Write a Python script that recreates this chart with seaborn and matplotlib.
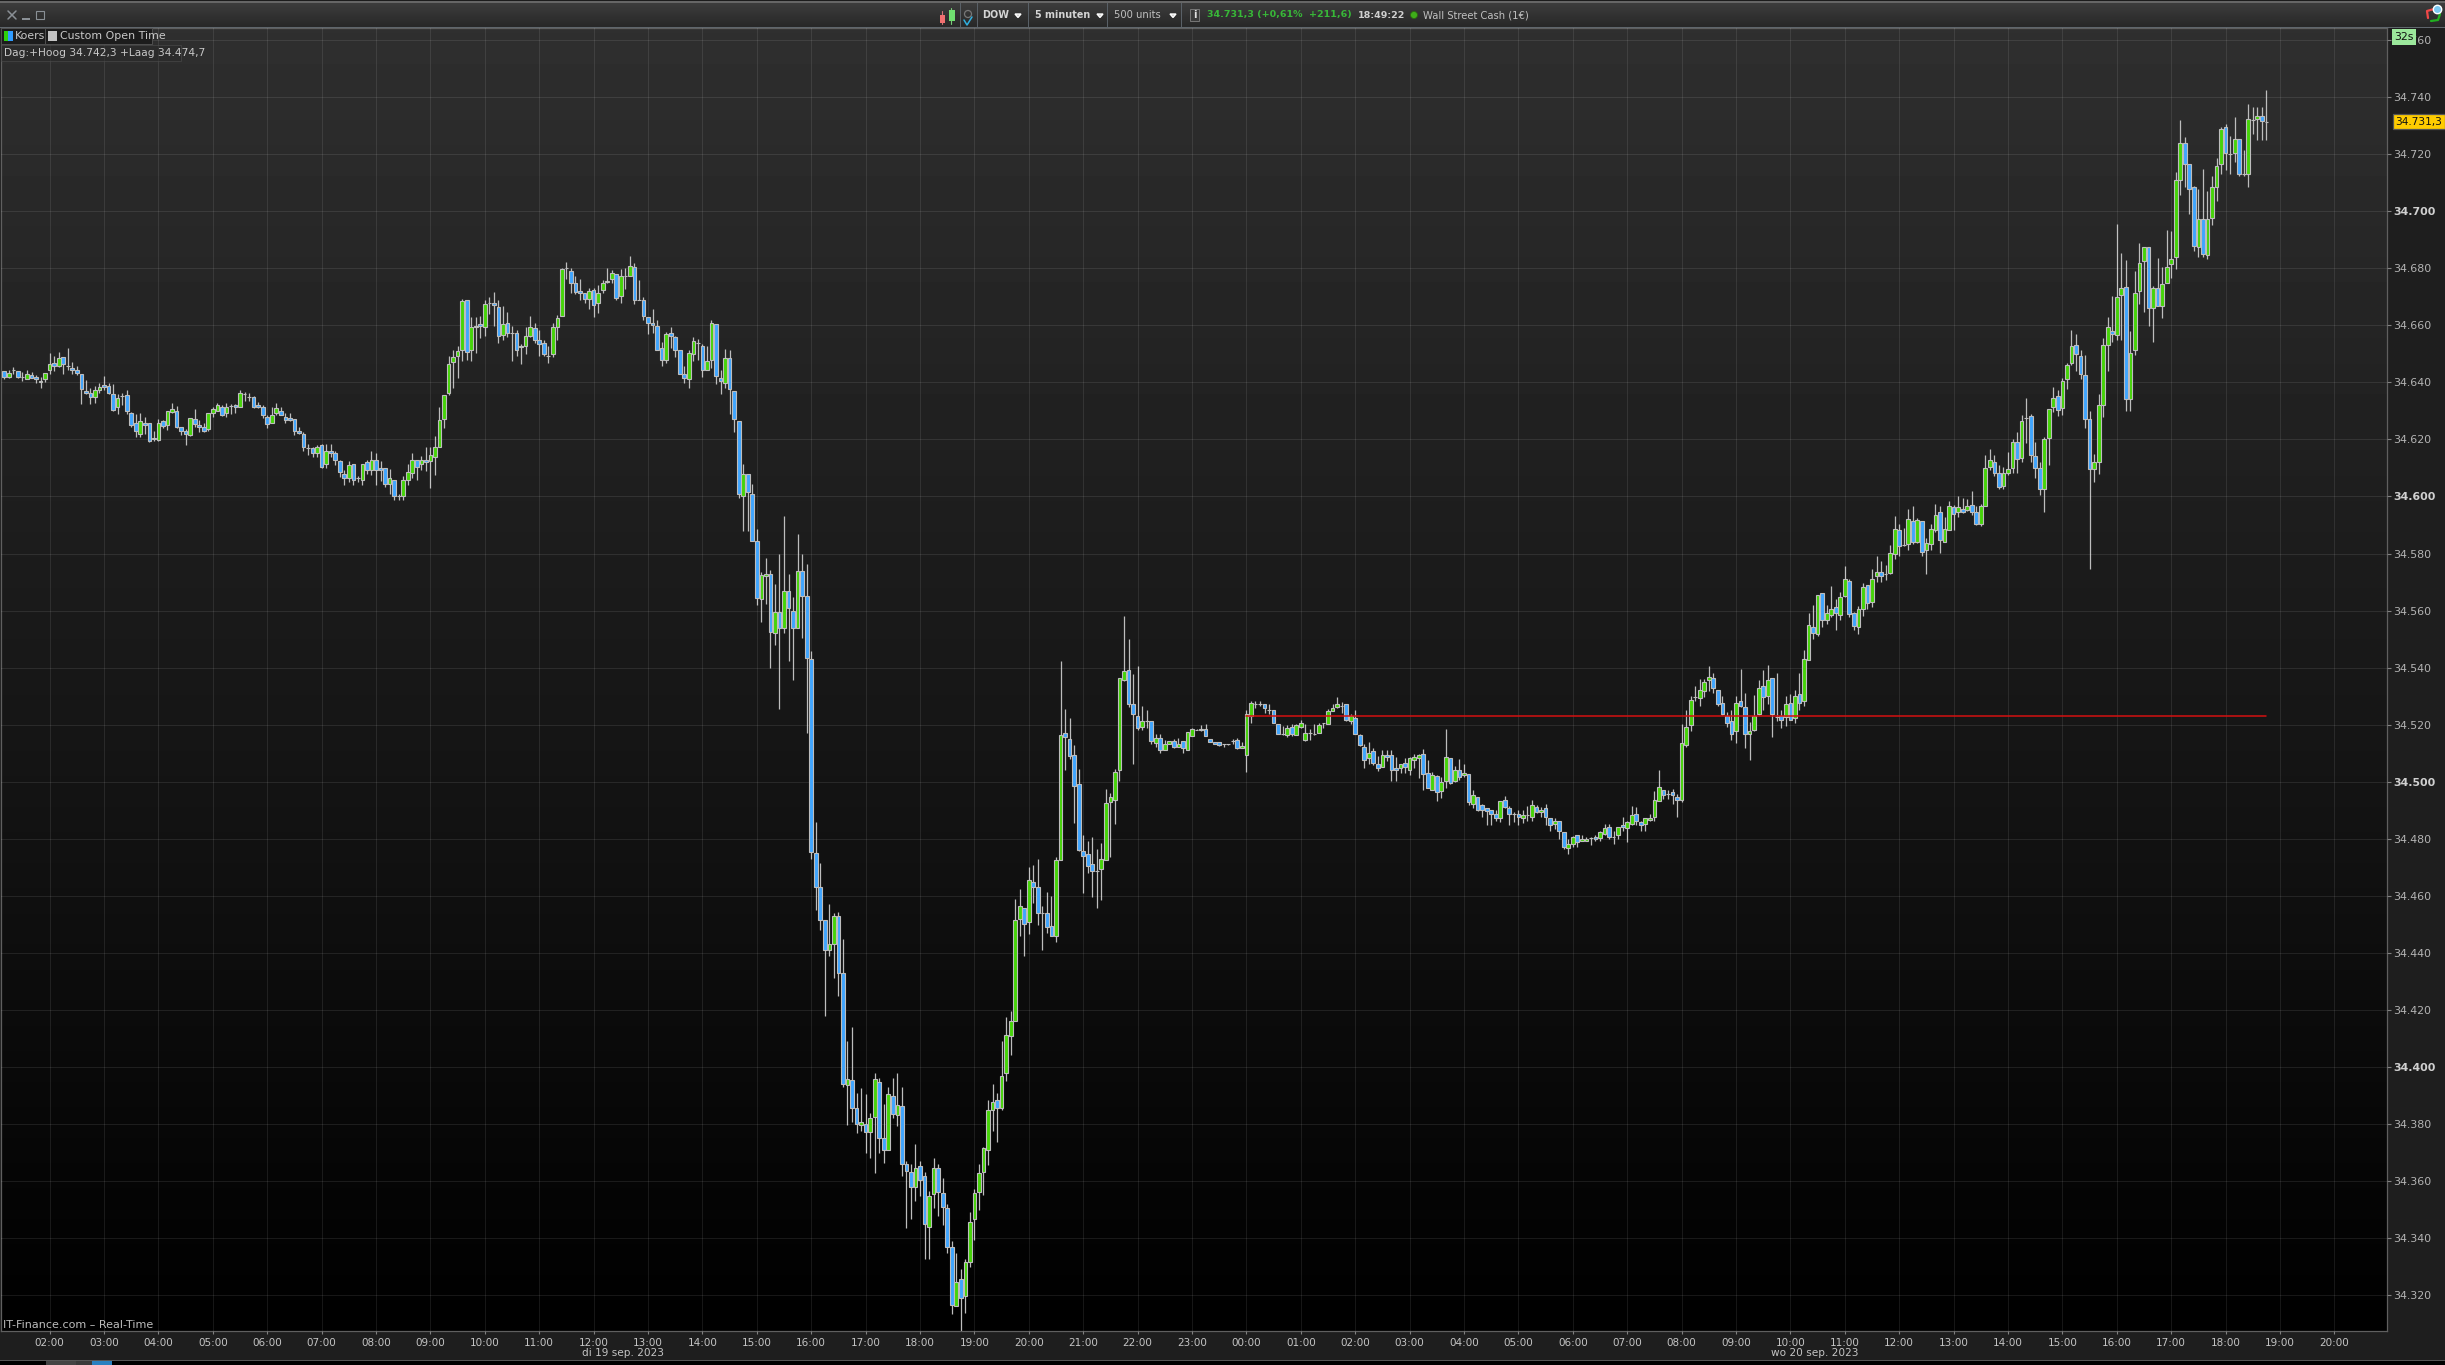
import numpy as np
import pandas as pd
import matplotlib
matplotlib.use("Agg")
import matplotlib.pyplot as plt
from matplotlib.patches import Rectangle, Circle, Polygon
import seaborn as sns

BASE = 34000
OPENS = [
644,642,644.4,644,641.8,641,642.5,642,640.1,641,
644.2,646.9,645.9,649,645.8,645.2,644.4,643,637,636.1,
635,637.2,639.1,638.6,636,631.2,635.2,635.6,629.1,625.6,
622,625.8,625.6,620,619.9,626.5,625.2,629.6,630,624.4,
622.8,621.7,627,625.2,624.2,623.5,629.1,630.1,631.4,629.1,
631.7,632.2,631.4,635.9,634.8,634.9,632.2,631.4,627.9,625.9,
629.1,630,628,627.6,627,622.8,622,617,617,615.1,
618.1,611.3,615.8,615.1,612.6,608,606.6,611.4,606.6,605.9,
612.1,609.2,612.8,609.9,610,604.5,605.9,600,600,605.9,
608.2,612.8,611.3,612.7,612.6,614,617.2,627,636.1,647,
649.1,651.2,669,651.2,659.3,660.6,659.3,667.9,667.9,666.5,
656.5,660.9,657.4,657.2,652.4,652.6,656.1,659.1,655,653.9,
649.3,650.1,659.3,663.1,680,679.1,674.9,672.1,671.4,669.1,
672.5,667.7,672.2,675.2,676.1,678.1,670.1,677.3,677.3,680.6,
668.9,669,663,660.9,659.9,652.1,648,657.4,656,651.4,
643,641,650.1,653.9,652.8,644.5,647.9,660.6,641.7,639.9,
648.7,637,626.5,600,607.9,601,584.4,564.2,572.3,573,
552.3,559.5,554,566.9,560,554,574,565,543,475,
463,451.7,441,443.1,452.8,433,393.6,395.3,385.8,379.6,
379.9,377.1,382.5,394.9,375,370.9,390,383.1,386.5,365.9,
363.1,357.8,365.5,361.9,343.8,355.4,364.7,356,350.7,337,
316.1,325.9,319.6,331.8,346.8,356.1,363.1,370.9,384.9,388.4,
385.6,397.8,410.9,416.1,451.8,455.9,450.9,464.9,463.1,453.9,
453.9,449.3,445.9,472.6,517.1,515.1,509.5,499.2,475.7,474.7,
471.2,468.9,469.5,472.6,492.9,493.6,504.2,535.8,539.3,527.4,
523.2,519.2,521.4,521.4,513.7,515.4,511.2,513.3,514.3,512.3,
514.3,511.2,516.1,518.3,518,518.6,515.1,513.9,513.9,513.2,
513.2,514.3,514.7,511.9,509.5,523.2,527.4,527.4,527.4,525.2,
525.2,520.4,516.9,516.4,519.2,516.5,519.2,514.6,517.1,516.6,
517.2,520.6,520.4,524.9,526.3,526.7,527.4,521.4,522.5,516.5,
512.2,508.4,510.8,506.3,505.3,509.4,509.4,504.9,504.9,506.6,
504.1,507.7,508.4,509.8,503,497.2,501.9,496.9,500.2,508.4,
500.3,504.2,502.5,502.8,492.3,494.6,491.9,490.9,490.2,488.8,
487.4,493.7,490.9,488.7,488.8,487.3,488.4,487.6,491.2,489.5,
490.9,487.4,485.2,486.3,482.5,476.7,478.1,481.4,479.3,479.3,
480.4,480.7,480.3,481.7,484.2,480.7,481.3,484.9,483.9,485.3,
488.8,486,485.3,486.7,487.6,493.2,497.2,495.7,496.5,494.7,
493.7,512.9,520,529.8,529.4,531.8,535.5,536.5,532.3,527.7,
523.2,521.3,517.9,528.4,526.3,516.9,518.1,523.9,533.4,530.2,
536.5,522.8,523.1,522.8,527.7,522.5,530.9,528.4,542.7,554.3,
551.8,566.2,556.8,558.3,561.3,558.3,565.2,570.2,559.2,554.4,
560.4,568.8,563.1,572,573.4,572.9,573.2,580,588.4,583,
583.2,591.3,584.1,591.3,581.3,583.2,588.4,594.4,584.2,588.4,
596.4,594.4,595.7,595.4,597.1,594.4,590.3,596.6,610.2,612.2,
608.3,603.8,608.4,609.9,619.2,613.5,627.5,628.3,614.3,610.1,
602.5,620.4,631.3,635.3,630.9,641.3,646.7,653.2,649.4,642.5,
627,609.5,612,632,653,658,656.5,670.5,673.4,634,
651.2,671.9,682.5,687.6,666,672.9,666.7,674.8,681.4,683.9,
711,723.8,716.7,708.3,687.4,697.2,684.6,697.7,708.4,716.5,
729.5,720.1,720.4,725.3,713.1,713.2,732,732.3,733.2,731.3]
CLOSES = [
642,643.4,644.4,642,641.8,643,641.7,641,640.6,643.4,
646.5,645.6,648.7,646.6,645.8,644.2,643.4,637.5,636.1,635,
637.4,638.4,638.2,636.1,630.4,634.6,635.2,630,625.2,622.8,
626.5,625.2,619.5,620.6,625.9,624.6,630,630.5,624.2,623.1,
622,627.6,625.5,624.5,623.1,629.1,630.5,632.1,628.7,631.2,
631.7,631.2,636.3,635.9,634.8,631.4,631.2,628.7,625.5,628.6,
631,628.6,626.9,626.9,623.1,622.1,617.5,617,615.1,617.4,
610.4,616,615.1,612.9,608.6,606.6,611.1,605.9,606.6,611.4,
609.4,612.8,609.4,609.4,604.2,606.5,600,600,605.6,608.7,
612.8,610.5,612.8,612.2,614.6,617.4,626.9,635.6,646.5,649,
651.1,668.6,650.6,659.4,659.9,659.6,667.6,667.9,667,656.1,
660.6,657.2,657.4,651.5,652.9,656.3,659.5,654.7,653.6,650,
649.3,659.5,662.6,679.6,680,674.7,671.5,671.2,669.1,672.1,
667,671.4,674.7,675.6,678.2,669.4,677.3,677.3,680.9,668.7,
668.9,663.1,660.7,660,651.5,647.7,657,656.1,651.2,643.1,
641.6,650.4,654.6,653.9,644.5,647.6,660.9,642.1,640.6,648.7,
637.5,627,600.7,607.9,601.7,584.5,564.5,572.4,572.9,552.6,
559.5,554,566.9,561,554,574,565,543.5,475.5,463.1,
451.6,441,443,452.8,433,393.9,396,385.8,379.9,380.9,
377.1,382,396,375,370.9,390.7,383.4,386.8,365.9,363.5,
357.8,364.7,360.4,344.9,354.9,364.7,356.1,350.8,337.1,316.5,
324.7,318.9,331.7,345.8,356,363,371.5,384.8,387.9,385.7,
397,411.3,416.3,451.7,456.4,450.1,465.5,463.1,454,453.9,
449,445.9,472.6,516.5,515.7,509,498.6,476.1,474,470.4,
468.7,468.9,473,492.6,494.7,503.5,536.5,538.8,527.4,523.8,
518.8,521.4,521.4,514.3,515.4,511.2,513.3,514.3,512.3,513.3,
511.8,517.6,518.6,518.3,518.5,516,514,513.3,512.9,513.2,
513.2,514.3,511.8,512.6,523.8,527.6,527.4,527.4,525.9,525.2,
520.6,516.9,516.9,518.8,516.9,519.9,520.7,517.1,517.1,516.6,
520,520.6,524.9,525.9,527.4,526.7,521.8,523.2,516.9,512.9,
507.7,510.2,506.7,504.9,509.4,508.8,504.2,504.3,506.2,505.3,
508.4,508.7,509.4,502.7,497.8,502.3,496.4,499.9,508.7,499.6,
504,501.7,503.2,492.9,495.5,490,490.1,489.7,488.7,487.3,
493.3,491.1,488.7,488.7,487.7,488.3,488.4,491.9,489.4,490.2,
487.6,484.8,486.3,482.8,477.1,478.3,480.7,479,480,480,
480.4,479.9,482.5,483.9,480.6,480.7,484.2,484.2,486,488.4,
486.2,484.9,487.4,487.3,493.7,498.3,495.5,495.7,495.5,493.7,
513.7,519.3,528.8,529.8,532.3,534.8,536.9,533,527.3,523.8,
520.7,516.9,527.7,526.6,516.9,517.9,523.2,533,529.8,535.8,
523.8,522.8,521.8,527.4,521.8,530.2,527.7,543.1,554.8,552.3,
565.3,556.8,559,560.6,559,564.9,570.9,558.9,554.6,560.6,
568.4,562.7,571.1,573.7,572.2,572.9,580.3,588.7,582.7,583,
592.2,583.9,591.8,580.7,583.8,588.7,593.6,584.8,588.7,596.8,
593.7,596.3,594.4,596.8,594.6,590.2,596.8,610.1,612.9,608.4,
603.2,608.3,609.5,619.2,613,626.6,627.5,614.4,609.9,602.5,
620,630.8,634.6,630.2,640.6,646.2,652.9,649.9,642.8,627,
609.5,612,632,653.2,659.3,656.9,669.9,672.9,634,650.4,
671.2,681.8,687.6,666,672.9,666.7,674.6,680.6,683.4,710.8,
723.8,716.5,707.7,687.7,697.2,684.9,697.4,708.4,715.7,728.7,
720.4,720.1,725.3,713.2,713.1,732.3,732,733.2,731.6,731.3]
HIGHS = [
644,644.3,645.4,644,643.6,644.5,643.6,642.7,642,643.4,
650.3,649.4,650.6,649,652.2,647,645.9,643,640.8,637.9,
638.6,639.6,642.2,639.6,639.4,635.9,636.1,637.2,629.7,628.9,
629.1,628,625.6,623.1,627,626.7,630,632.6,631.7,624.4,
623.7,627.6,630.6,626.7,625.6,629.1,631.2,632.9,631.9,632.8,
632.4,632.3,637.3,636.5,636.3,635.2,633.1,632.1,628.7,631.2,
632.6,631.2,629.1,629.1,627.3,624.2,622.7,618.3,617.4,618,
618.3,618.3,618.3,615.8,612.7,609.2,612.6,611.4,607.2,611.4,
612.7,615.9,615.1,612.5,610,609.6,605.9,601,607.1,611.3,
615.1,612.8,614.1,617.3,617.4,621.1,631.2,635.6,649.1,651.5,
652.9,669.1,669,662.8,662.8,663.2,668.7,670,671.7,668.7,
666.7,664.6,659.7,658.3,653.6,659.3,663.2,660.7,658.3,655,
652.7,660.7,663.6,680.1,682.2,680.1,677.3,676.2,671.4,672.9,
673,674,675.9,680.1,679.4,678.1,679.7,680.1,684.3,682,
675.9,670,663,665.7,661.8,654,657.5,659.3,656.2,651.4,
645.7,651.3,655.8,655.2,653.6,652.7,661.8,660.6,644.2,651.7,
651.3,637,626.5,611.5,607.9,604.5,588.7,573.7,578.3,574.1,
569.4,580,593,573,564.6,587,580,576.5,546,485.9,
471.6,451.7,457.1,454.1,454.5,444.8,409,414,390.8,392.6,
390.6,383.9,397.9,396.1,387.1,393.1,396.1,397.9,393.1,367.1,
365.9,373,367.1,363.1,356.5,368.1,365.9,361.1,352,339,
335,329.3,332.9,349.2,357.1,366,371.9,388.3,394.1,390.9,
409,417.5,419.7,459,462.5,455.9,470.2,470.9,473.1,456.3,
461.5,460,473.7,542.5,525.6,522.5,512.8,504.6,481.2,479.4,
480.8,476.5,478.4,497.6,496,504.6,536.5,558,550,537.9,
540.7,526.4,525.3,521.4,516.6,516.9,514.5,514.3,514.9,515.4,
514.3,517.6,518.9,518.5,519.8,520.4,515.1,513.9,513.9,513.3,
513.3,515,515.4,513.8,525,528.4,528.4,528.4,527.4,527.4,
525.2,520.4,519.4,520,520.1,520.4,521.5,520.4,518.4,520.1,
520.7,520.6,525.5,527.4,529.6,527.8,527.4,523.9,525,516.9,
513.3,513.8,511.9,508.9,511,511.2,511,508.7,506.3,508.4,
508.7,509.6,509.8,511.4,507.5,503.3,502.3,501.6,518.4,508.4,
505.4,507.9,506.3,502.8,497,494.6,492.3,490.9,490.2,490,
493.3,494.9,491.4,489.5,490.2,490.2,491.4,493.5,491.7,491.1,
492.1,487.4,487.4,486.3,482.5,480,481,481.4,481.5,480.8,
480.8,481.5,482.7,485.3,485.3,482.6,484.2,487.5,486.2,491.4,
491,486.2,487.4,488.6,496.7,504.2,497.2,497.2,497.3,495.6,
520.1,525.3,530,533.5,535.9,535.9,540.5,538,532.3,530,
524.3,525.3,530,539.4,531,520.8,530.3,535.8,539.1,540.8,
536.5,538.3,525.3,530,530.9,532.1,538.3,546.3,559.3,561.9,
565.3,566.2,561.9,568.6,563.9,566.5,575.6,571,559.6,561.6,
569.7,568.8,574.5,579.1,577.3,575.9,583.1,593.1,590.3,588.9,
595.5,596.6,592.4,591.3,585.4,590.3,597.3,596.6,592.9,598.3,
596.9,600.1,599.4,599,601.8,596.6,597.3,614.5,616.5,614.5,
611,610.4,615.6,620,622.6,628.5,634.4,628.8,619.1,612,
620.7,630.8,638.3,637.3,641.4,646.7,658.4,657,651.3,649.5,
630,615,636,655.5,662.8,670.3,695.6,685.4,682.9,658.1,
679.1,688.9,687.6,687.6,673.8,683.6,680.5,693.5,693.1,713.7,
732.1,726.1,716.7,708.9,707.9,714.9,707,712.4,718.6,729.5,
730.7,726.5,733.1,725.3,721.5,737.7,736.6,736.6,736.6,742.3]
LOWS = [
641,641.6,642.9,641.7,640.6,641,641.5,639.9,638.1,640,
643,644.1,645.5,643,644.3,643,642.5,632.5,635.9,632.5,
632.7,636.1,637.3,635.9,630,629,632,629,624.4,620.9,
620.9,621.8,619.1,619.5,619.5,623.9,623.2,629.1,623.9,621.5,
618,621.1,624.4,622.5,622.5,623,627.9,629.8,628.3,627.9,
629,629.2,631.4,633.5,633.5,631.1,631,627.5,624.1,625.6,
628.7,628.4,625.8,626.4,621.6,621.8,615.8,614.7,613.9,613.9,
609.9,610,613.9,611,606.9,603.9,605.1,603.9,605.1,603.9,
607.8,607.4,603.9,605.5,603.4,600.8,598.7,598.7,598.7,603.9,
606.4,605.7,609.2,609,603,607.4,617.2,624.1,635.6,638,
641.5,647.4,647.8,647.4,650.4,655.6,656.2,663.9,659.7,653.9,
654.8,656,647.4,649.2,646.5,650,655.8,653.9,649.2,649.2,
646.9,649,654.8,663.1,676.3,671.4,670.9,668.9,667.9,665.7,
663,664.4,671.4,674.7,674.7,668.9,667.9,672.8,677.3,667.4,
668.9,661.8,656.9,657.4,651.3,645.8,646.9,652,649,642.9,
639.9,638.1,647.4,647.8,641.9,644.5,645.1,639.5,636,638.1,
629,622.7,599.4,587.9,587.9,584.5,561.9,556,562.3,539.9,
547.9,525.5,552.1,542.3,535.8,554,550.5,517,473,455.2,
448,417.8,438.8,431.4,424.8,392.9,379.8,380.8,377,377.6,
370,368.2,363,370,366.5,370.9,382,379.4,362,343.7,
346.8,352.9,354.9,332.8,332.8,350.6,347.9,344.8,335,313.5,
316.1,307.2,313.8,330,339.4,350,355.3,365.8,377.6,373.8,
384.8,395,404.3,416.1,445.8,438.8,446.5,457.4,449.9,441.2,
447,445.9,443.7,472.6,504.3,508,485.7,475.7,460.9,468,
459.5,455.7,458.5,472.6,473.8,485.2,500.2,535.3,526.2,506.2,
518.3,518,519,513.1,512.2,510.1,511.2,513.1,511.8,512.2,
510.1,511.2,515.9,518,517.8,515.9,513.8,513.3,512.6,512.2,
512.8,513.3,511.5,511.9,503.3,520.6,525.7,526.4,524.1,523.6,
520.6,516.6,516.3,515.7,516.1,516.5,519,514.3,514.5,516.4,
517.1,518.8,520.4,524.8,525.9,524.1,521.3,520.1,516.9,512.6,
504.8,506.1,505.9,503.8,505.2,507.3,500.2,500.2,503,503,
502.3,504.7,501.3,497.1,497.8,497.2,493.2,494.3,497.8,499.1,
499.9,500.5,501.7,491.7,490.8,489.6,487.6,484.7,485,486.4,
485.8,490.9,485,485.8,485,485.5,486.4,486.1,489.1,487.6,
485,482.9,483.6,480.1,476.4,474.6,477.1,477.1,479.1,479.2,
477.7,479.2,479.2,481.2,479.8,478.1,479.8,482.9,478.9,485,
485,482.6,482.9,486.4,486.4,493.2,494,494,492.1,487.6,
492.9,512.2,517.7,528.3,526.4,529.7,531.7,531.1,526.4,523.3,
519.1,514.5,513.6,526.2,511.7,507.5,517.8,523.5,525,527.2,
515.7,521.2,518.8,519.7,521.5,520.6,525,526.5,542.7,550,
551,554.3,555.2,557.8,553.1,556.6,564.6,557.8,553.1,551.8,
558,560.4,561.1,570,570,570.7,572.8,578,579.1,582.6,
581.1,583.5,583.8,579.1,572.8,581.2,587.5,580.3,584.2,588.4,
588.2,592.9,594.1,595,593.4,590.1,589.6,596.6,609.3,607.2,
602.7,602.7,607.6,608.3,608.3,612.2,618.9,612.2,606.6,600.5,
594.6,611.1,629.7,628.2,628.6,637.7,646.1,644.1,641.2,624,
574.5,605,608,628,644.1,654.1,654.9,654.9,630,630,
649.6,667.5,664.8,659.8,654.3,666.6,662.7,674.8,676.7,679.8,
705.7,708.3,699.1,686.2,683.8,683.8,683.3,695.3,703.4,713.1,
714.3,713.1,717.4,712.2,712.2,708.3,727.2,725.1,725.1,725.1]

HOUR_LABELS = ["02:00","03:00","04:00","05:00","06:00","07:00","08:00","09:00","10:00","11:00","12:00",
               "13:00","14:00","15:00","16:00","17:00","18:00","19:00","20:00","21:00","22:00","23:00",
               "00:00","01:00","02:00","03:00","04:00","05:00","06:00","07:00","08:00","09:00","10:00",
               "11:00","12:00","13:00","14:00","15:00","16:00","17:00","18:00","19:00","20:00"]
FIRST_HOUR_BAR = 10
BARS_PER_HOUR = 12
PRICE_TICKS = [34320,34340,34360,34380,34400,34420,34440,34460,34480,34500,34520,34540,34560,
               34580,34600,34620,34640,34660,34680,34700,34720,34740,34760]
BOLD_TICKS = [34400,34500,34600,34700]
REF_LEVEL = 34523.2
REF_START_BAR = 274
LAST_PRICE = 34731.3

W, H = 2445, 1365
sns.set_theme(style="dark", rc={"figure.facecolor": "#1e1e1e", "axes.facecolor": "#000000",
                                 "axes.edgecolor": "#5a5a5a", "font.family": ["DejaVu Sans"]})
df = pd.DataFrame({"bar": np.arange(len(OPENS)),
                   "open": BASE + np.array(OPENS, float), "close": BASE + np.array(CLOSES, float),
                   "high": BASE + np.array(HIGHS, float), "low": BASE + np.array(LOWS, float)})
df["bottom"] = df[["open", "close"]].min(axis=1)
df["height"] = (df["open"] - df["close"]).abs()
GREEN, BLUE, EDGE = "#45d408", "#3fa5ff", "#bdbdbd"
df["color"] = np.where(df["close"] > df["open"], GREEN, BLUE)

fig = plt.figure(figsize=(W / 100, H / 100), dpi=100, facecolor="#1e1e1e")
ax = fig.add_axes([1 / W, (H - 1331) / H, 2386 / W, 1303 / H], zorder=1)

grad = np.linspace(47, 0, 256)[:, None].repeat(2, axis=1)
ax.imshow(grad, cmap="gray", vmin=0, vmax=255, aspect="auto", transform=ax.transAxes,
          extent=[0, 1, 0, 1], origin="upper", zorder=0)

hour_ticks = [FIRST_HOUR_BAR + BARS_PER_HOUR * k for k in range(len(HOUR_LABELS))]
ax.grid(True, color="white", alpha=0.09, lw=0.8)
ax.set_axisbelow(False)
ax.xaxis.grid(True); ax.yaxis.grid(True)
for gl in ax.get_xgridlines() + ax.get_ygridlines():
    gl.set_zorder(1)

ax.vlines(df["bar"], df["low"], df["high"], color=EDGE, lw=0.9, zorder=2)
ax.bar(df["bar"], df["height"], width=0.82, bottom=df["bottom"], color=df["color"],
       edgecolor=EDGE, linewidth=0.8, zorder=3)
sns.lineplot(x=[REF_START_BAR, df["bar"].iloc[-1]], y=[REF_LEVEL, REF_LEVEL], ax=ax,
             color="#d41010", lw=1.1, legend=False, zorder=6)

ax.set_xlim(-0.728, 525.6)
ax.set_ylim(34307.5, 34764.2)
ax.set_xticks(hour_ticks)
ax.set_xticklabels(HOUR_LABELS)
ax.set_yticks(PRICE_TICKS)
ax.set_yticklabels([f"{p:,}".replace(",", ".") for p in PRICE_TICKS])
ax.set_xlabel(""); ax.set_ylabel("")
ax.yaxis.tick_right()
ax.tick_params(axis="y", length=3.2, width=0.8, color="#808080", pad=1.4, labelsize=7.9, labelcolor="#b4b4b4", right=True, left=False)
ax.tick_params(axis="x", length=2.2, width=0.8, color="#808080", pad=3.0, labelsize=7.5, labelcolor="#c4c4c4", bottom=True)
for tick, lab in zip(PRICE_TICKS, ax.get_yticklabels()):
    if tick in BOLD_TICKS:
        lab.set_fontweight("bold")
        lab.set_color("#d0d0d0")
for side in ("top", "left", "right", "bottom"):
    ax.spines[side].set_color("#5f5f5f")
    ax.spines[side].set_linewidth(0.9)

# window chrome, drawn in pixel coordinates
ov = fig.add_axes([0, 0, 1, 1], zorder=5, facecolor="none")
bar_grad = np.linspace(62, 40, 64)[:, None].repeat(2, axis=1)
ov.imshow(bar_grad, cmap="gray", vmin=0, vmax=255, aspect="auto", extent=[0, W, 27, 2], origin="upper", zorder=0, alpha=1)
ov.set_xlim(0, W); ov.set_ylim(H, 0); ov.axis("off")

def rect(x, y, w, h, fc, ec="none", lw=0.7, z=1, alpha=None):
    ov.add_patch(Rectangle((x, y), w, h, fc=fc, ec=ec, lw=lw, zorder=z, alpha=alpha))

def label(x, y, s, color="#cccccc", size=7.2, weight="normal", ha="left"):
    ov.text(x, y, s, color=color, fontsize=size, fontweight=weight, ha=ha, va="center", zorder=6)

rect(0, 0, W, 1, "#1c1c1c", z=2)
rect(0, 1, W, 1.5, "#666666", z=2)
rect(0, 27, W, 1, "#5f666c", z=2)
for sx in (960, 977, 1028, 1107, 1181):
    rect(sx, 3, 0.8, 24, "#596067", z=2)
# window buttons
ov.plot([8, 16], [11, 19], color="#8a9096", lw=1.1, zorder=3)
ov.plot([8, 16], [19, 11], color="#8a9096", lw=1.1, zorder=3)
rect(22, 18, 8, 1.5, "#8a9096", z=3)
rect(36, 11, 7.5, 8, "none", ec="#8a9096", lw=0.8, z=3)
# candle icon
ov.plot([942, 942], [11, 24], color="#c77", lw=0.8, zorder=3)
rect(940, 15, 5, 8, "#f07070", z=4)
ov.plot([951, 951], [8, 24], color="#7c7", lw=0.8, zorder=3)
rect(948.5, 10, 6, 11, "#70e070", z=4)
ov.add_patch(Circle((968, 14), 3.5, fc="none", ec="#777", lw=0.9, zorder=3))
ov.plot([964, 967, 972], [20, 25, 17], color="#30b0e0", lw=1.1, zorder=3)
label(982, 15, "DOW", color="#d4d4d4", size=7.0, weight="bold")
label(1035, 15, "5 minuten", color="#d4d4d4", size=6.9, weight="bold")
label(1114, 15, "500 units", color="#c0c0c0", size=7.2)
for tx in (1018, 1100, 1173):
    ov.add_patch(Polygon([[tx - 3, 14], [tx + 3, 14], [tx, 17.5]], fc="#c8c8c8", zorder=3))
rect(1190, 9, 9, 12, "#3a3a3a", ec="#777", z=3)
label(1194.5, 15, "i", color="#e0e0e0", size=7, weight="bold", ha="center")
label(1207, 15, "34.731,3 (+0,61%  +211,6)", color="#38b838", size=6.8, weight="bold")
label(1358, 15, "18:49:22", color="#d0d0d0", size=6.8, weight="bold")
ov.add_patch(Circle((1414, 15), 3.5, fc="#3fae1a", ec="#2a6a10", lw=0.6, zorder=3))
label(1423, 15, "Wall Street Cash (1€)", color="#c0c0c0", size=7.2)
# refresh icon
ov.plot([2434, 2427, 2428], [9, 11, 18], color="#f04848", lw=1.6, zorder=3)
ov.plot([2440, 2438, 2431], [14, 20, 21], color="#20b020", lw=1.6, zorder=3)
ov.add_patch(Circle((2437.5, 9.5), 4.2, fc="#7cc8f0", zorder=4))

# legend boxes
rect(1, 28, 44, 16, "#1c1c1c", ec="#505050", z=3)
rect(45, 28, 107, 16, "#1c1c1c", ec="#505050", z=3)
rect(3.5, 31, 4.5, 10, "#2ed00c", z=4)
rect(8, 31, 4.5, 10, "#2f9bff", z=4)
label(15, 36, "Koers", color="#c8c8c8", size=7.8)
rect(48, 31, 8.5, 10, "#c4c4c4", z=4)
label(59.5, 36, "Custom Open Time", color="#c8c8c8", size=7.9)
rect(1, 45, 180, 16, "#2a2a2a", ec="#505050", z=3, alpha=0.55)
label(4, 53, "Dag:+Hoog 34.742,3 +Laag 34.474,7", color="#c8c8c8", size=7.7)

# price flags
rect(2392, 29, 24, 15.5, "#9ce89c", z=5)
label(2404, 37, "32s", color="#111111", size=7.8, ha="center")
rect(2392.5, 113.5, 52, 15.5, "#ffcc00", ec="#555555", lw=0.9, z=5)
label(2418.5, 121.5, f"{LAST_PRICE:,.1f}".replace(",", "#").replace(".", ",").replace("#", "."),
      color="#111111", size=7.6, ha="center")

# footer
label(3, 1325, "IT-Finance.com – Real-Time", color="#bdbdbd", size=8.0)
label(623, 1353, "di 19 sep. 2023", color="#c4c4c4", size=7.6, ha="center")
label(1815, 1353, "wo 20 sep. 2023", color="#c4c4c4", size=7.6, ha="center")
rect(0, 1360, W, 1, "#555555", z=3)
rect(0, 1361, W, 4, "#000000", z=3)
rect(46, 1361, 30, 4, "#444444", z=4)
rect(76, 1361, 16, 4, "#3a3a3a", z=4)
rect(92, 1361, 20, 4, "#2a80c0", z=4)

fig.savefig("out.png", dpi=100, facecolor=fig.get_facecolor())
